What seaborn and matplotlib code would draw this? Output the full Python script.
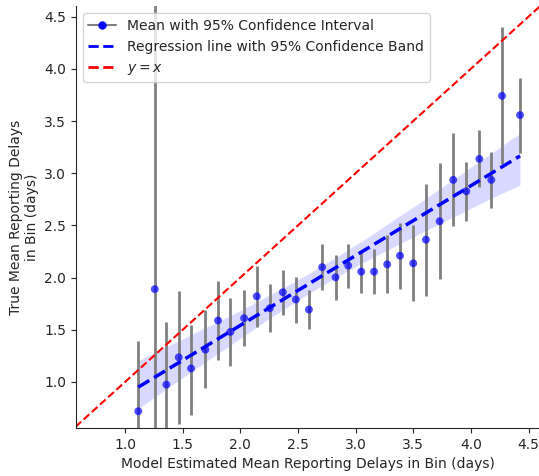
import numpy as np
import pandas as pd
import matplotlib
matplotlib.use("Agg")
import matplotlib.pyplot as plt
from matplotlib.lines import Line2D
import seaborn as sns

# Data
est_mean = [1.115, 1.258, 1.359, 1.466, 1.573, 1.697, 1.807, 1.914, 2.033, 2.143,
            2.256, 2.369, 2.482, 2.595, 2.710, 2.826, 2.936, 3.049, 3.160, 3.274,
            3.385, 3.500, 3.610, 3.729, 3.847, 3.960, 4.073, 4.177, 4.270, 4.426]
true_mean = [0.72, 1.89, 0.975, 1.236, 1.13, 1.31, 1.589, 1.48, 1.611, 1.821,
             1.707, 1.86, 1.79, 1.694, 2.10, 2.003, 2.115, 2.057, 2.057, 2.127,
             2.21, 2.137, 2.363, 2.54, 2.936, 2.827, 3.137, 2.936, 3.741, 3.557]
ci_low = [0.30, -1.2, 0.37, 0.60, 0.685, 0.94, 1.207, 1.156, 1.34, 1.528,
          1.48, 1.643, 1.566, 1.506, 1.885, 1.786, 1.90, 1.853, 1.84, 1.85,
          1.888, 1.78, 1.828, 1.99, 2.49, 2.544, 2.865, 2.665, 3.089, 3.197]
ci_high = [1.39, 5.0, 1.576, 1.87, 1.547, 1.688, 1.971, 1.805, 1.885, 2.108,
           1.936, 2.07, 2.01, 1.885, 2.32, 2.22, 2.318, 2.258, 2.27, 2.404,
           2.525, 2.50, 2.898, 3.095, 3.385, 3.108, 3.41, 3.203, 4.40, 3.916]

df = pd.DataFrame({"est": est_mean, "true": true_mean})

sns.set_style("ticks")
plt.rcParams['font.family'] = ['DejaVu Sans']

fig = plt.figure(figsize=(5.39, 4.76), dpi=100)
ax = fig.add_axes([0.141, 0.101, 0.861, 0.886])

yerr = np.array([np.array(true_mean) - np.array(ci_low),
                 np.array(ci_high) - np.array(true_mean)])
ax.errorbar(est_mean, true_mean, yerr=yerr, fmt='none', ecolor='gray',
            elinewidth=2, zorder=2)

n_before = len(ax.collections)
sns.regplot(data=df, x="est", y="true", scatter=False, ax=ax, ci=95, seed=0,
            line_kws=dict(color='blue', linestyle='--', linewidth=2.5, zorder=3),
            color='blue')
for coll in ax.collections[n_before:]:
    coll.set_alpha(0.15)

ax.scatter(est_mean, true_mean, color='blue', alpha=0.7, s=32, zorder=4,
           edgecolors='none')

lims = [0.57, 4.6]
ax.plot(lims, lims, color='red', linestyle='--', linewidth=1.5, zorder=2.5)
ax.set_xlim(0.575, 4.6)
ax.set_ylim(0.56, 4.6)

ax.set_xlabel("Model Estimated Mean Reporting Delays in Bin (days)", fontsize=10)
ax.set_ylabel("True Mean Reporting Delays\nin Bin (days)", fontsize=10)
ax.tick_params(labelsize=10)
sns.despine(ax=ax)

handles = [
    Line2D([0], [0], color='gray', marker='o', markerfacecolor='blue',
           markeredgecolor='blue', markersize=5, linewidth=1.5),
    Line2D([0], [0], color='blue', linestyle='--', linewidth=2),
    Line2D([0], [0], color='red', linestyle='--', linewidth=2),
]
labels = ["Mean with 95% Confidence Interval",
          "Regression line with 95% Confidence Band",
          "$y = x$"]
ax.legend(handles, labels, loc='upper left', fontsize=10)

fig.savefig("out.png", dpi=100)
